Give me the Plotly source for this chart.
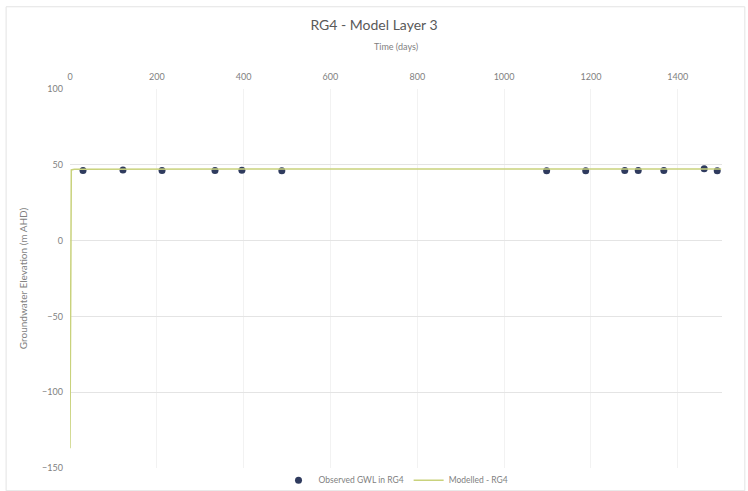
import plotly.graph_objects as go

# Observed groundwater levels at bore RG4 (days since start, m AHD)
obs_days = [30, 122, 212, 334, 396, 488, 1098, 1188, 1278, 1309, 1368, 1461, 1491]
obs_gwl = [46.3, 46.5, 46.2, 46.3, 46.4, 46.0, 46.0, 46.1, 46.2, 46.2, 46.3, 47.4, 46.0]

# Modelled head in layer 3 at RG4
model_days = [0, 1, 3, 10, 100, 400, 800, 1200, 1500]
model_head = [-137.0, -40.0, 46.6, 47.1, 47.2, 47.2, 47.2, 47.3, 47.3]

x_ticks = [0, 200, 400, 600, 800, 1000, 1200, 1400]
y_ticks = [-150, -100, -50, 0, 50, 100]

text_col = "#7f7f7f"
font_family = "Lato, 'Open Sans', sans-serif"

fig = go.Figure()
fig.add_trace(go.Scatter(
    x=obs_days, y=obs_gwl, mode="markers", name="Observed GWL in RG4",
    marker=dict(color="#2f3b5e", size=7),
))
fig.add_trace(go.Scatter(
    x=model_days, y=model_head, mode="lines", name="Modelled - RG4",
    line=dict(color="#c9d27c", width=1.5),
))

fig.update_layout(
    width=748, height=491,
    margin=dict(l=70, r=26, t=89, b=23, autoexpand=False),
    paper_bgcolor="white", plot_bgcolor="white",
    font=dict(family=font_family, color=text_col, size=9),
    title=dict(text="RG4 - Model Layer 3", x=0.5, xanchor="center",
               y=0.948, yanchor="middle",
               font=dict(size=14, color="#595959", family=font_family)),
    showlegend=True,
    legend=dict(orientation="h", x=0.5, xanchor="center", y=-0.032,
                yanchor="middle", font=dict(size=8.5, color=text_col),
                itemwidth=30, bgcolor="rgba(0,0,0,0)"),
    xaxis=dict(
        side="top", range=[0, 1502], tickvals=x_ticks,
        showgrid=True, gridcolor="#f2f2f2", gridwidth=1,
        zeroline=False, showline=False, ticks="",
        ticklabelstandoff=6,
        tickfont=dict(size=9, color=text_col),
        title=dict(text="Time (days)", font=dict(size=9, color=text_col), standoff=19),
    ),
    yaxis=dict(
        range=[-150, 100], tickvals=y_ticks,
        showgrid=True, gridcolor="#e4e4e4", gridwidth=1,
        zeroline=False, showline=False, ticks="",
        ticklabelstandoff=6,
        tickfont=dict(size=9, color=text_col),
        title=dict(text="Groundwater Elevation (m AHD)",
                   font=dict(size=10, color=text_col), standoff=12),
    ),
    shapes=[dict(type="rect", xref="paper", yref="paper",
                 x0=-0.098, x1=1.035, y0=-0.06, y1=1.217,
                 line=dict(color="#e3e3e3", width=1))],
)

fig.write_html("out.html")
